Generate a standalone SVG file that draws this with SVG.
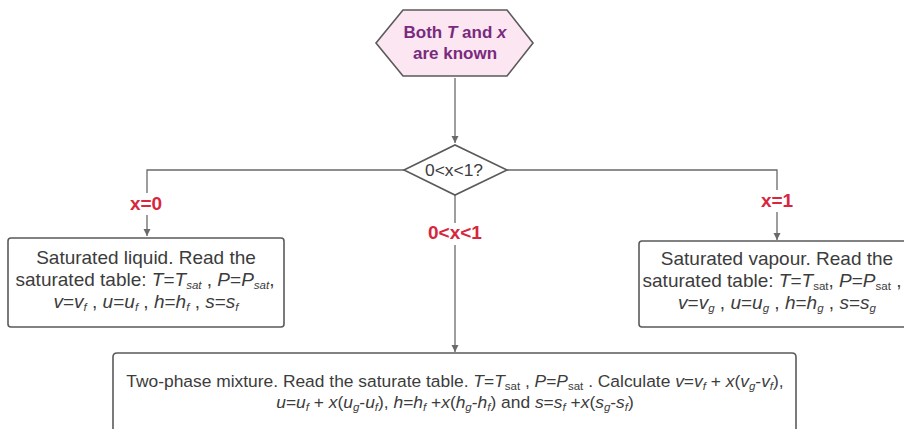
<svg xmlns="http://www.w3.org/2000/svg" width="904" height="429" viewBox="0 0 904 429">
<style>
.box{fill:#fff;stroke:#5a5a5a;stroke-width:1.6}
.conn{fill:none;stroke:#6a6a6a;stroke-width:1.3}
.t{font-family:"Liberation Sans",Arial,sans-serif;fill:#3c3c3c;font-size:17.4px}
.big{font-size:19px}
.lbl{font-family:"Liberation Sans",Arial,sans-serif;fill:#d7263d;font-size:19px;font-weight:bold;text-anchor:middle}
.i{font-style:italic}
.s{font-size:11.5px}
</style>
<defs>
<marker id="arr" markerWidth="8" markerHeight="8" refX="7" refY="4" orient="auto" markerUnits="userSpaceOnUse">
<path d="M0,0.5 L7,4 L0,7.5 Z" fill="#6a6a6a"/>
</marker>
</defs>
<g id="connectors">
<path class="conn" d="M455,78 V143" marker-end="url(#arr)"/>
<path class="conn" d="M404,170 H147 V236" marker-end="url(#arr)"/>
<path class="conn" d="M507,170 H777 V240" marker-end="url(#arr)"/>
<path class="conn" d="M455,195 V352" marker-end="url(#arr)"/>
<rect x="122" y="193" width="50" height="22" fill="#fff"/>
<text class="lbl" x="146" y="210">x=0</text>
<rect x="752" y="190" width="50" height="22" fill="#fff"/>
<text class="lbl" x="777" y="207">x=1</text>
<rect x="418" y="223" width="74" height="22" fill="#fff"/>
<text class="lbl" x="455" y="239">0&lt;x&lt;1</text>
</g>
<g id="start">
<polygon points="376,43 403,10 507,10 533,43 507,76 403,76" fill="#fbe6f1" stroke="#5a5a5a" stroke-width="1.6"/>
<text x="455" y="38" text-anchor="middle" font-family="Liberation Sans,Arial,sans-serif" font-size="17" font-weight="bold" fill="#7a2a7e">Both <tspan class="i">T</tspan> and <tspan class="i">x</tspan></text>
<text x="455" y="59" text-anchor="middle" font-family="Liberation Sans,Arial,sans-serif" font-size="17" font-weight="bold" fill="#7a2a7e">are known</text>
</g>
<g id="decision">
<polygon points="404,170 455,145 507,170 455,195" fill="#fff" stroke="#5a5a5a" stroke-width="1.6"/>
<text class="t" x="454" y="176" text-anchor="middle" font-size="16">0&lt;x&lt;1?</text>
</g>
<g id="liquid">
<rect class="box" x="8" y="238" width="276" height="89" rx="3"/>
<text class="t big" x="146" y="264" text-anchor="middle">Saturated liquid. Read the</text>
<text class="t big" x="145" y="286" text-anchor="middle">saturated table: <tspan class="i">T</tspan>=<tspan class="i">T<tspan class="s" dy="3">sat</tspan></tspan><tspan dy="-3"> , </tspan><tspan class="i">P</tspan>=<tspan class="i">P<tspan class="s" dy="3">sat</tspan></tspan><tspan dy="-3">,</tspan></text>
<text class="t big" x="146" y="308" text-anchor="middle"><tspan class="i">v</tspan>=<tspan class="i">v<tspan class="s" dy="3">f</tspan></tspan><tspan dy="-3"> , </tspan><tspan class="i">u</tspan>=<tspan class="i">u<tspan class="s" dy="3">f</tspan></tspan><tspan dy="-3"> , </tspan><tspan class="i">h</tspan>=<tspan class="i">h<tspan class="s" dy="3">f</tspan></tspan><tspan dy="-3"> , </tspan><tspan class="i">s</tspan>=<tspan class="i">s<tspan class="s" dy="3">f</tspan></tspan></text>
</g>
<g id="vapour">
<rect class="box" x="639" y="241" width="276" height="86" rx="3"/>
<text class="t big" x="777" y="265" text-anchor="middle">Saturated vapour. Read the</text>
<text class="t big" x="772" y="287" text-anchor="middle">saturated table: <tspan class="i">T</tspan>=<tspan class="i">T</tspan><tspan class="s" dy="3">sat</tspan><tspan dy="-3">, </tspan><tspan class="i">P</tspan>=<tspan class="i">P</tspan><tspan class="s" dy="3">sat</tspan><tspan dy="-3"> ,</tspan></text>
<text class="t big" x="777" y="309" text-anchor="middle"><tspan class="i">v</tspan>=<tspan class="i">v<tspan class="s" dy="3">g</tspan></tspan><tspan dy="-3"> , </tspan><tspan class="i">u</tspan>=<tspan class="i">u<tspan class="s" dy="3">g</tspan></tspan><tspan dy="-3"> , </tspan><tspan class="i">h</tspan>=<tspan class="i">h<tspan class="s" dy="3">g</tspan></tspan><tspan dy="-3"> , </tspan><tspan class="i">s</tspan>=<tspan class="i">s<tspan class="s" dy="3">g</tspan></tspan></text>
</g>
<g id="mixture">
<path class="box" d="M113,440 V357 Q113,353 117,353 H792 Q796,353 796,357 V440"/>
<text class="t" x="455" y="387" text-anchor="middle">Two-phase mixture. Read the saturate table. <tspan class="i">T</tspan>=<tspan class="i">T</tspan><tspan class="s" dy="3">sat</tspan><tspan dy="-3"> , </tspan><tspan class="i">P</tspan>=<tspan class="i">P</tspan><tspan class="s" dy="3">sat</tspan><tspan dy="-3"> . Calculate </tspan><tspan class="i">v</tspan>=<tspan class="i">v<tspan class="s" dy="3">f</tspan></tspan><tspan dy="-3"> + </tspan><tspan class="i">x</tspan>(<tspan class="i">v<tspan class="s" dy="3">g</tspan></tspan><tspan dy="-3">-</tspan><tspan class="i">v<tspan class="s" dy="3">f</tspan></tspan><tspan dy="-3">),</tspan></text>
<text class="t" x="455" y="408" text-anchor="middle"><tspan class="i">u</tspan>=<tspan class="i">u<tspan class="s" dy="3">f</tspan></tspan><tspan dy="-3"> + </tspan><tspan class="i">x</tspan>(<tspan class="i">u<tspan class="s" dy="3">g</tspan></tspan><tspan dy="-3">-</tspan><tspan class="i">u<tspan class="s" dy="3">f</tspan></tspan><tspan dy="-3">), </tspan><tspan class="i">h</tspan>=<tspan class="i">h<tspan class="s" dy="3">f</tspan></tspan><tspan dy="-3"> +</tspan><tspan class="i">x</tspan>(<tspan class="i">h<tspan class="s" dy="3">g</tspan></tspan><tspan dy="-3">-</tspan><tspan class="i">h<tspan class="s" dy="3">f</tspan></tspan><tspan dy="-3">) and </tspan><tspan class="i">s</tspan>=<tspan class="i">s<tspan class="s" dy="3">f</tspan></tspan><tspan dy="-3"> +</tspan><tspan class="i">x</tspan>(<tspan class="i">s<tspan class="s" dy="3">g</tspan></tspan><tspan dy="-3">-</tspan><tspan class="i">s<tspan class="s" dy="3">f</tspan></tspan><tspan dy="-3">)</tspan></text>
</g>
</svg>
